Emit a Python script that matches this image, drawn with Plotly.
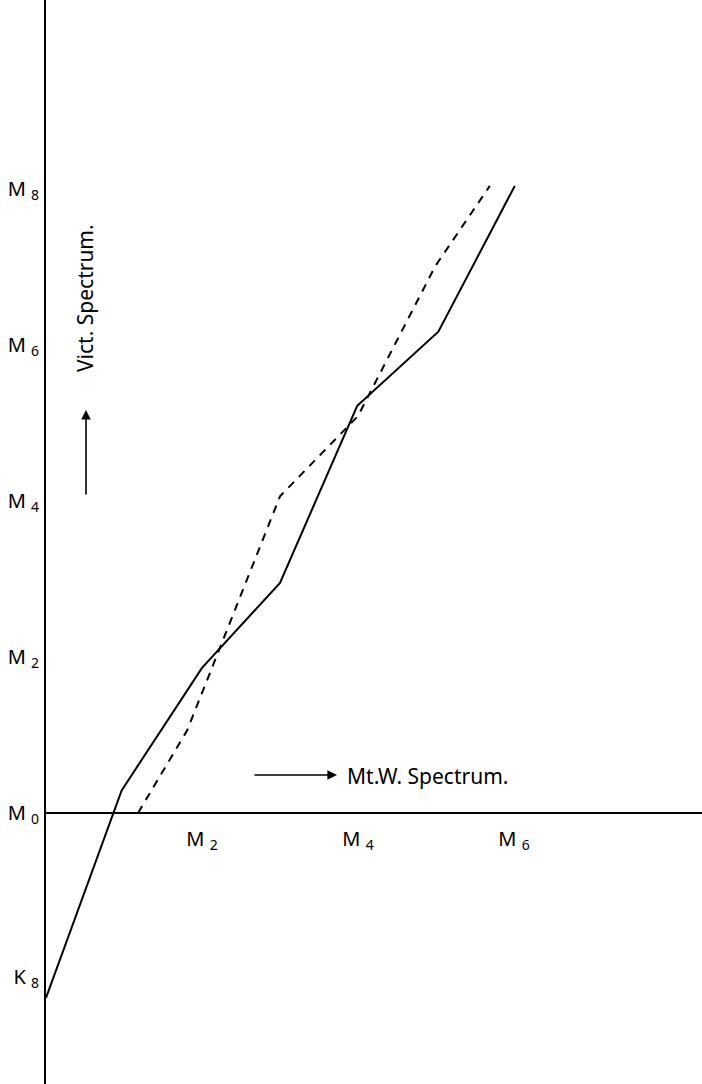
import plotly.graph_objects as go

# Data (units: spectral steps, M0 = origin)
solid_x = [0.0, 0.97, 2.0, 3.0, 3.99, 5.03, 6.01]
solid_y = [-2.37, 0.29, 1.86, 2.95, 5.22, 6.17, 8.04]

dashed_x = [1.18, 1.81, 3.0, 4.0, 4.99, 5.69]
dashed_y = [0.0, 1.06, 4.06, 5.09, 7.01, 8.04]

y_tick_vals = [-2.1, 0, 2, 4, 6, 8]
y_tick_text = ["K <sub>8</sub>", "M <sub>0</sub>", "M <sub>2</sub>", "M <sub>4</sub>", "M <sub>6</sub>", "M <sub>8</sub>"]
x_tick_vals = [2, 4, 6]
x_tick_text = ["M <sub>2</sub>", "M <sub>4</sub>", "M <sub>6</sub>"]

FONT = "Noto Sans"
W, H = 702, 1084
L = 46
UNIT = 78.0
Y0_PX = 813

x_range = [0, (W - L) / UNIT]
y_range = [(Y0_PX - H) / UNIT, Y0_PX / UNIT]
x_axis_pos = (0 - y_range[0]) / (y_range[1] - y_range[0])

fig = go.Figure()
fig.add_trace(go.Scatter(x=solid_x, y=solid_y, mode="lines",
                         line=dict(color="black", width=2), showlegend=False,
                         hoverinfo="skip"))
fig.add_trace(go.Scatter(x=dashed_x, y=dashed_y, mode="lines",
                         line=dict(color="black", width=2, dash="8px,7px"),
                         showlegend=False, hoverinfo="skip"))

fig.update_layout(
    width=W, height=H,
    margin=dict(l=L, r=0, t=0, b=0),
    paper_bgcolor="white", plot_bgcolor="white",
    font=dict(family=FONT, color="black"),
    xaxis=dict(range=x_range, showgrid=False, zeroline=False,
               showline=True, linecolor="black", linewidth=2,
               anchor="free", position=x_axis_pos,
               tickvals=x_tick_vals, ticktext=x_tick_text,
               ticks="outside", ticklen=8, tickcolor="white",
               tickfont=dict(size=20, family=FONT)),
    yaxis=dict(range=y_range, showgrid=False, zeroline=False,
               showline=True, linecolor="black", linewidth=2,
               tickvals=y_tick_vals, ticktext=y_tick_text,
               ticks="outside", ticklen=1, tickcolor="white",
               tickfont=dict(size=20, family=FONT)),
)

# Horizontal label with arrow
fig.add_annotation(x=(337 - L) / UNIT, y=(Y0_PX - 775) / UNIT, xref="x", yref="y",
                   ax=-84, ay=0, text="", showarrow=True,
                   arrowhead=2, arrowsize=1.2, arrowwidth=1.6, arrowcolor="black")
fig.add_annotation(x=(345 - L) / UNIT, y=(Y0_PX - 776) / UNIT, xref="x", yref="y",
                   text="Mt.W. Spectrum.", showarrow=False, xanchor="left",
                   font=dict(size=21, family=FONT))

# Vertical label with arrow
fig.add_annotation(x=(86 - L) / UNIT, y=(Y0_PX - 410) / UNIT, xref="x", yref="y",
                   ax=0, ay=86, text="", showarrow=True,
                   arrowhead=2, arrowsize=1.2, arrowwidth=1.6, arrowcolor="black")
fig.add_annotation(x=(85 - L) / UNIT, y=(Y0_PX - 298) / UNIT, xref="x", yref="y",
                   text="Vict. Spectrum.", showarrow=False, textangle=-90,
                   font=dict(size=21, family=FONT))

fig.write_html("out.html",
               config={"displayModeBar": False},
               post_script="document.body.style.margin='0';document.body.style.overflow='hidden';")
